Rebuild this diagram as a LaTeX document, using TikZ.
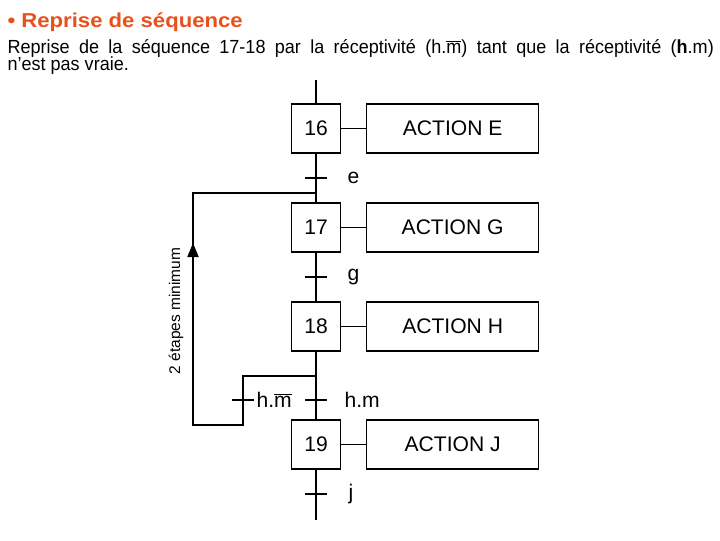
\documentclass[tikz,border=0pt]{standalone}
\usepackage{fontspec}
\setmainfont{Liberation Sans}
\newfontfamily\condfont[FakeStretch=0.95]{Liberation Sans}
\newfontfamily\largefont[FakeStretch=1.1]{Liberation Sans}
\usetikzlibrary{positioning, arrows.meta}
\usepackage{xcolor}
\definecolor{titre}{RGB}{232,80,28}

\begin{document}
\begin{tikzpicture}[
  x=0.025cm, y=-0.025cm,
  line width=0.8pt,
  etape/.style={
    draw,
    minimum height=1.225cm,
    minimum width=1.225cm,
    inner sep=0pt,
    font=\fontsize{15}{15}\selectfont
  },
  action/.style={
    draw,
    minimum height=1.225cm,
    minimum width=4.3cm,
    inner sep=0pt,
    font=\fontsize{15}{15}\selectfont
  },
  recep/.style={font=\fontsize{15}{15}\selectfont, anchor=west, inner sep=0pt},
  ligne/.style={anchor=base west, inner sep=0pt, font=\condfont\fontsize{13.5}{13.5}\selectfont},
  arr/.style={-{Triangle[length=0.35cm, width=0.28cm]}}
]
\useasboundingbox (0,0) rectangle (720,540);

% en-tete
\node[anchor=base west, inner sep=0pt, text=titre, font=\largefont\bfseries\fontsize{14.3}{14.3}\selectfont] (titre) at (7,27) {• Reprise de séquence};
\node[ligne] (ligne1) at (7,53)
  {\makebox[17.65cm][s]{Reprise de la séquence 17-18 par la réceptivité (h.$\overline{\mbox{m}}$) tant que la réceptivité (\textbf{h}.m)}};
\node[ligne] (ligne2) at (7,70) {n’est pas vraie.};

% etapes et actions
\node[etape] (e16) at (316,128.5) {16};
\node[action, right=0.625cm of e16] (a16) {ACTION E};
\node[etape] (e17) at (316,227.5) {17};
\node[action, right=0.625cm of e17] (a17) {ACTION G};
\node[etape] (e18) at (316,326.5) {18};
\node[action, right=0.625cm of e18] (a18) {ACTION H};
\node[etape] (e19) at (316,444.5) {19};
\node[action, right=0.625cm of e19] (a19) {ACTION J};

\draw (e16) -- (a16);
\draw (e17) -- (a17);
\draw (e18) -- (a18);
\draw (e19) -- (a19);

% liaisons
\coordinate (haut) at (316,80);
\coordinate (bas) at (316,520);
\draw (haut) -- (e16);
\draw (e16) -- (e17);
\draw (e17) -- (e18);
\draw (e18) -- (e19);
\draw (e19) -- (bas);

% receptivites
\draw (305,178) -- (327,178);
\node[recep] (te) at (347,178) {e};
\draw (305,277) -- (327,277);
\node[recep] (tg) at (347,277) {g};
\draw (305,400) -- (327,400);
\node[recep] (thm) at (344,400) {h.m};
\draw (305,494) -- (327,494);
\node[recep] (tj) at (348,494) {j};

% reprise de sequence
\coordinate (div) at (316,376);
\coordinate (r1) at (243,376);
\coordinate (r2) at (243,425);
\coordinate (r3) at (193,425);
\coordinate (fleche) at (193,243);
\coordinate (r4) at (193,193);
\coordinate (conv) at (316,193);
\draw (div) -- (r1) -- (r2) -- (r3) -- (r4) -- (conv);
\draw[arr] (r3) -- (fleche);
\draw (232,400) -- (254,400);
\node[recep] (thmb) at (256,400) {h.$\overline{\mbox{m}}$};

\node[rotate=90, inner sep=0pt, font=\fontsize{11}{11}\selectfont] (mini) at (176,311) {2 étapes minimum};

\end{tikzpicture}
\end{document}
